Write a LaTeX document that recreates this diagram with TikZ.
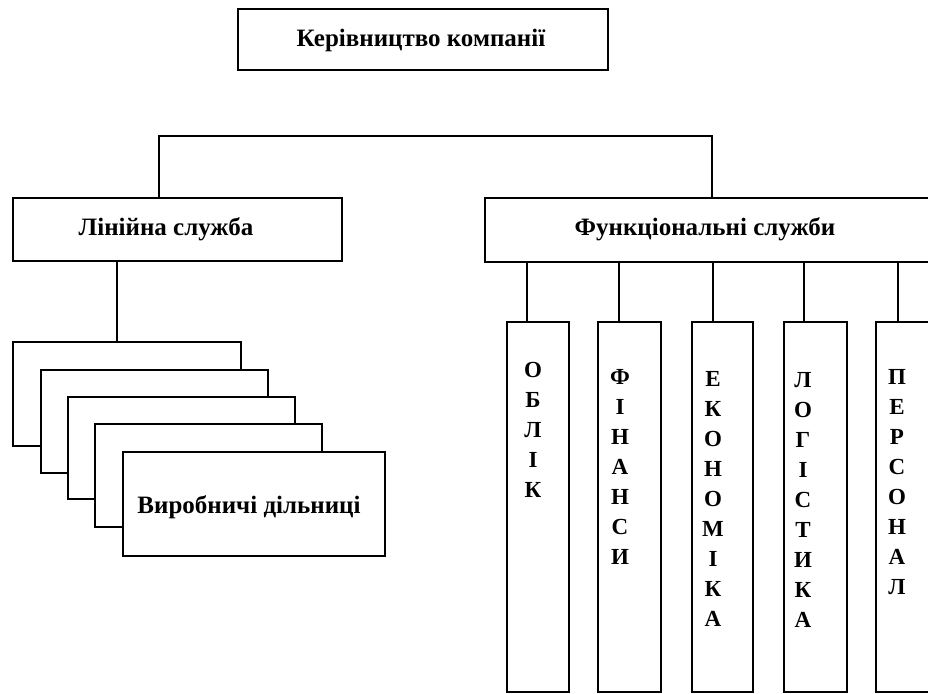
\documentclass[tikz,border=0pt]{standalone}
\usepackage{fontspec}
\setmainfont{Liberation Serif}[BoldFont={Liberation Serif Bold}]
\begin{document}
\begin{tikzpicture}[x=1pt,y=-1pt, line width=2pt,
  box/.style={draw, fill=white, rectangle, inner sep=0pt},
  txt/.style={font=\fontsize{25}{30}\selectfont\bfseries, inner sep=0pt},
  colbox/.style={box, minimum height=370pt},
  coltxt/.style={font=\fontsize{23}{30}\selectfont\bfseries, inner sep=0pt, align=center, anchor=north}]
\useasboundingbox (0,0) rectangle (928,693);
\fill[white] (0,0) rectangle (928,693);
% top level
\node[box, minimum width=370pt, minimum height=61pt] (top) at (423,39.5) {};
\node[txt] (topt) at (421,40) {Керівництво компанії};
% second level
\node[box, minimum width=329pt, minimum height=63pt] (lin) at (177.5,229.5) {};
\node[txt] (lint) at (166,229) {Лінійна служба};
\node[box, minimum width=445pt, minimum height=64pt] (func) at (707.5,230) {};
\node[txt] (funct) at (705,229) {Функціональні служби};
% bracket
\coordinate (bl) at (159,136);
\coordinate (br) at (712,136);
\draw (lin.north -| bl) -- (bl) -- (br) -- (func.north -| br);
% stacked production units
\node[box, minimum width=228pt, minimum height=104pt] (b1) at (127,394) {};
\node[box, minimum width=227pt, minimum height=103pt] (b2) at (154.5,421.5) {};
\node[box, minimum width=227pt, minimum height=102pt] (b3) at (181.5,448) {};
\node[box, minimum width=227pt, minimum height=103pt] (b4) at (208.5,475.5) {};
\node[box, minimum width=262pt, minimum height=104pt] (b5) at (254,504) {};
\node[txt] (b5t) at (249,507) {Виробничі дільниці};
\coordinate (lk) at (117,0);
\draw (lin.south -| lk) -- (b1.north -| lk);
% functional columns
\node[colbox, minimum width=62pt] (c1) at (538,507) {};
\node[colbox, minimum width=63pt] (c2) at (629.5,507) {};
\node[colbox, minimum width=61pt] (c3) at (722.5,507) {};
\node[colbox, minimum width=63pt] (c4) at (815.5,507) {};
\node[colbox, minimum width=62pt] (c5) at (907,507) {};
\node[coltxt] (t1) at (533,361) {О\\Б\\Л\\І\\К};
\node[coltxt] (t2) at (620,368) {Ф\\І\\Н\\А\\Н\\С\\И};
\node[coltxt] (t3) at (713,370) {Е\\К\\О\\Н\\О\\М\\І\\К\\А};
\node[coltxt] (t4) at (803,371) {Л\\О\\Г\\І\\С\\Т\\И\\К\\А};
\node[coltxt] (t5) at (897,368) {П\\Е\\Р\\С\\О\\Н\\А\\Л};
\foreach \i/\cx in {1/527,2/619,3/713,4/804,5/898}{
  \coordinate (k\i) at (\cx,0);
  \draw (func.south -| k\i) -- (c\i.north -| k\i);
}
\end{tikzpicture}
\end{document}
